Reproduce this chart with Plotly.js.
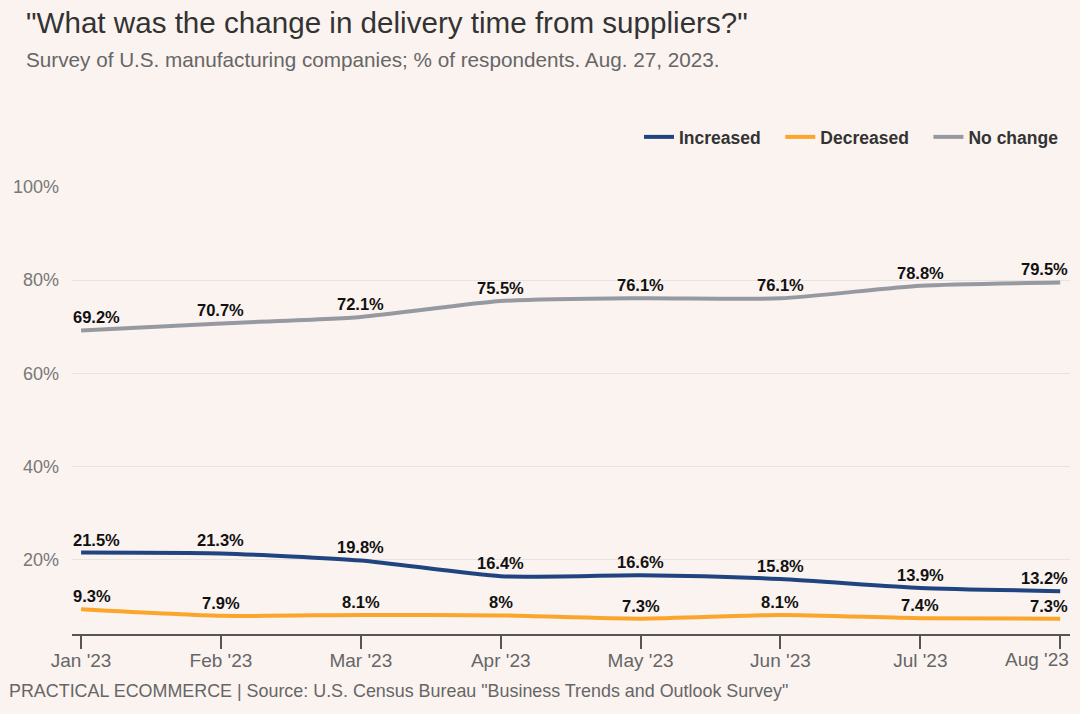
<!DOCTYPE html>
<html>
<head>
<meta charset="utf-8">
<script src="https://cdn.plot.ly/plotly-3.0.1.min.js"></script>
<style>html,body{margin:0;padding:0;background:#fbf3f0;}#chart{width:1080px;height:714px;}</style>
</head>
<body>
<div id="chart"></div>
<script>
const months = ["Jan '23","Feb '23","Mar '23","Apr '23","May '23","Jun '23","Jul '23","Aug '23"];
const increased = [21.5, 21.3, 19.8, 16.4, 16.6, 15.8, 13.9, 13.2];
const decreased = [9.3, 7.9, 8.1, 8.0, 7.3, 8.1, 7.4, 7.3];
const noChange = [69.2, 70.7, 72.1, 75.5, 76.1, 76.1, 78.8, 79.5];
const yTicks = [20, 40, 60, 80, 100];
const yTickText = ["20%", "40%", "60%", "80%", "100%"];

const FONT = "Liberation Sans, Arial, sans-serif";
const PAD = "\u00a0\u00a0\u00a0";
const series = [
  {name: "Increased", y: increased, color: "#1f4480", pad: PAD},
  {name: "Decreased", y: decreased, color: "#fba52a", pad: PAD},
  {name: "No change", y: noChange, color: "#969aa0", pad: ""}
];

const last = months.length - 1;
const xIdx = months.map((m, i) => i);

const traces = series.map(s => ({
  type: "scatter", mode: "lines", name: s.name + s.pad,
  x: xIdx, y: s.y,
  line: {color: s.color, width: 4, shape: "spline", smoothing: 0.6},
  hoverinfo: "skip"
}));

// plot area geometry (px): left 72, right 1070, top 187, bottom 634
const PL = 72, PR = 1070, PT = 187, PB = 634;
const PW = PR - PL, PH = PB - PT;
const px2x = x => (x - PL) / PW;
const px2y = y => (PB - y) / PH;

const annotations = [];
series.forEach(s => {
  s.y.forEach((v, i) => {
    annotations.push({
      x: i, y: v, xref: "x", yref: "y",
      text: "<b>" + v + "%</b>", showarrow: false,
      xanchor: i === 0 ? "left" : (i === last ? "right" : "center"),
      xshift: i === 0 ? -10 : (i === last ? 10 : 0),
      yanchor: "bottom", yshift: 2,
      font: {family: FONT, size: 16.5, color: "#111"}
    });
  });
});
// last x tick label, shifted to fit inside the page (as in the reference)
annotations.push({
  x: last, xref: "x", y: 0, yref: "paper",
  xanchor: "right", xshift: 11, yanchor: "middle", yshift: -25,
  text: months[last], showarrow: false,
  font: {family: FONT, size: 19, color: "#666"}
});
annotations.push({
  xref: "paper", yref: "paper", x: px2x(24), y: px2y(60),
  xanchor: "left", yanchor: "middle",
  text: "Survey of U.S. manufacturing companies; % of respondents. Aug. 27, 2023.",
  showarrow: false, font: {family: FONT, size: 20.7, color: "#666"}
});
annotations.push({
  xref: "paper", yref: "paper", x: px2x(7), y: px2y(691),
  xanchor: "left", yanchor: "middle",
  text: "PRACTICAL ECOMMERCE | Source: U.S. Census Bureau \"Business Trends and Outlook Survey\"",
  showarrow: false, font: {family: FONT, size: 17.9, color: "#666"}
});

const layout = {
  width: 1080, height: 714,
  paper_bgcolor: "#fbf3f0", plot_bgcolor: "#fbf3f0",
  margin: {l: PL, r: 1080 - PR, t: PT, b: 714 - PB},
  font: {family: FONT, color: "#666"},
  title: {
    text: "\"What was the change in delivery time from suppliers?\"",
    xref: "container", yref: "container", x: 26/1080, y: 1 - 23/714,
    xanchor: "left", yanchor: "middle",
    font: {family: FONT, size: 29.6, color: "#333"}
  },
  showlegend: true,
  legend: {
    orientation: "h", xref: "paper", yref: "paper", x: px2x(1064), xanchor: "right",
    y: px2y(137), yanchor: "middle",
    font: {family: FONT, size: 17.5, color: "#333", weight: "bold"},
    bgcolor: "rgba(0,0,0,0)", itemwidth: 30, traceorder: "normal"
  },
  xaxis: {
    range: [-0.065, 7.07], tickmode: "array",
    tickvals: xIdx, ticktext: months.map((m, i) => i === last ? "" : m),
    showgrid: false, zeroline: false,
    showline: true, linecolor: "#555", linewidth: 2,
    ticks: "outside", ticklen: 13, tickwidth: 2, tickcolor: "#555",
    tickfont: {family: FONT, size: 19, color: "#666"},
    ticklabelstandoff: -5,
    fixedrange: true
  },
  yaxis: {
    range: [4, 100], tickmode: "array", tickvals: yTicks, ticktext: yTickText,
    showgrid: true, gridcolor: "#e6e3e1", gridwidth: 1,
    zeroline: false, showline: false, ticks: "",
    tickfont: {family: FONT, size: 18, color: "#777"},
    ticklabelstandoff: 12,
    fixedrange: true
  },
  annotations: annotations
};

Plotly.newPlot("chart", traces, layout, {displayModeBar: false, staticPlot: true});
</script>
</body>
</html>
